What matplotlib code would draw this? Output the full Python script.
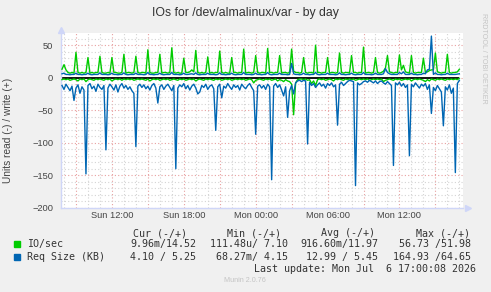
import matplotlib.pyplot as plt
from matplotlib.ticker import FixedLocator, FixedFormatter, MultipleLocator
from matplotlib.patches import Rectangle
import numpy as np

# samples every 10 minutes, Sun 07:50 -> Mon 17:00 (hours counted from Sun 00:00)
start_hour = 7 + 50 / 60
step_hour = 10 / 60

# IO/sec, write (+)
io_write = [
    13, 20, 12, 8, 7, 8, 7,
    39, 8, 7, 8, 7, 8,
    31, 7, 8, 7, 8, 8,
    33, 8, 7, 7, 8, 7,
    31, 8, 8, 7, 7, 8,
    36, 7, 8, 8, 7, 8,
    33, 8, 7, 8, 8, 7,
    43, 8, 7, 7, 8, 8,
    36, 7, 8, 8, 7, 8,
    46, 8, 7, 8, 7, 7,
    30, 8, 8, 9, 12, 9,
    42, 8, 7, 8, 7, 8,
    32, 7, 8, 7, 8, 8,
    41, 8, 7, 8, 7, 7,
    31, 8, 8, 7, 8, 8,
    44, 7, 8, 8, 7, 8,
    34, 8, 7, 8, 8, 7,
    45, 8, 8, 7, 8, 8,
    34, 7, 8, 8, 7, 8,
    44, 10, 8, 8, 7, 8,
    31, 8, 7, 8, 8, 7,
    50, 8, 8, 7, 8, 8,
    31, 7, 8, 8, 7, 8,
    38, 8, 7, 8, 8, 7,
    34, 8, 8, 7, 8, 8,
    47, 7, 8, 8, 7, 8,
    31, 8, 7, 8, 10, 15,
    34, 9, 8, 7, 8, 8,
    35, 12, 19, 9, 8, 7,
    34, 8, 7, 8, 8, 8,
    30, 8, 9, 11, 12, 12,
    38, 9, 8, 7, 8, 8,
    36, 8, 7, 8, 8, 9,
    13,
]

# IO/sec, read (-)
io_read = [
    -3, -2, -3, -2, -4, -3, -2, -3, -5, -2,
    -3, -2, -6, -3, -2, -3, -4, -2, -3, -2,
    -3, -4, -2, -3, -2, -5, -3, -2, -3, -2,
    -4, -2, -3, -2, -3, -2, -4, -3, -2, -3,
    -2, -3, -4, -2, -5, -3, -2, -3, -2, -4,
    -3, -2, -3, -2, -4, -3, -2, -3, -4, -2,
    -3, -2, -4, -3, -2, -3, -2, -5, -3, -2,
    -3, -4, -2, -3, -2, -3, -4, -2, -3, -2,
    -4, -3, -2, -3, -2, -4, -3, -2, -3, -2,
    -3, -2, -4, -3, -2, -3, -8, -4, -3, -2,
    -3, -4, -2, -3, -2, -4, -3, -2, -5, -3,
    -4, -6, -3, -5, -6, -10, -57, -8, -3, -2,
    -2, -3, -2, -4, -3, -9, -5, -12, -3, -2,
    -3, -2, -4, -3, -2, -3, -5, -2, -3, -2,
    -3, -4, -2, -3, -2, -3, -2, -4, -3, -2,
    -3, -2, -3, -2, -4, -3, -2, -3, -2, -3,
    -2, -6, -4, -3, -2, -3, -4, -2, -3, -2,
    -4, -3, -2, -3, -2, -5, -3, -2, -3, -2,
    -3, -4, -6, -3, -5, -2, -3, -4, -2, -3,
    -2, -3, -4, -2, -3, -2, -3, -2, -3, -1,
]

# Req Size (KB), write (+)
req_write = [
    6, 7, 5, 5, 4.5, 5, 5,
    7, 5, 5, 4.5, 5, 5,
    7, 5, 4.5, 5, 5, 5,
    7.5, 5, 5, 5, 4.5, 5,
    7, 5, 5, 4.5, 5, 5,
    7.5, 5, 4.5, 5, 5, 5,
    7, 5, 5, 5, 4.5, 5,
    8, 5, 5, 4.5, 5, 5,
    7, 5, 4.5, 5, 5, 5,
    8, 5, 5, 5, 4.5, 5,
    7, 5, 5, 5.5, 6, 5,
    7.5, 5, 4.5, 5, 5, 5,
    7, 5, 5, 5, 4.5, 5,
    7.5, 5, 5, 4.5, 5, 5,
    7, 5, 4.5, 5, 5, 5,
    8, 5, 5, 5, 4.5, 5,
    7, 5, 5, 4.5, 5, 5,
    8, 5, 4.5, 5, 5, 5,
    7, 5, 5, 5, 4.5, 5,
    22, 6, 5, 5, 4.5, 5,
    7, 5, 5, 4.5, 5, 5,
    8, 5, 4.5, 5, 5, 5,
    7, 5, 5, 5, 4.5, 5,
    7.5, 5, 5, 4.5, 5, 5,
    7, 5, 4.5, 5, 5, 5,
    8, 5, 5, 5, 4.5, 5,
    7, 5, 5, 5, 6, 14,
    8, 6, 5, 5, 5, 5,
    8, 6, 9, 5, 5, 5,
    7, 5, 5, 4.5, 5, 5,
    7, 6, 12, 13, 64, 5,
    7.5, 5, 5, 4.5, 5, 5,
    7, 5, 5, 5, 5, 5.5,
    6,
]

# Req Size (KB), read (-)
req_read = [
    -12, -18, -10, -15, -20, -13, -35, -16, -11, -24,
    -14, -19, -148, -12, -9, -17, -13, -21, -10, -15,
    -18, -12, -111, -16, -10, -14, -19, -11, -22, -13,
    -9, -16, -12, -18, -14, -20, -24, -106, -13, -10,
    -15, -11, -17, -13, -19, -12, -9, -16, -39, -14,
    -11, -18, -13, -10, -15, -20, -12, -140, -16, -11,
    -14, -9, -17, -12, -19, -13, -10, -16, -25, -22,
    -12, -15, -10, -18, -13, -11, -17, -81, -14, -10,
    -31, -13, -16, -9, -14, -18, -11, -15, -12, -19,
    -10, -14, -17, -12, -9, -15, -20, -87, -13, -11,
    -16, -12, -18, -10, -14, -157, -13, -9, -15, -11,
    -19, -28, -14, -61, -20, -12, -25, -8, -5, -4,
    -6, -4, -5, -102, -7, -12, -9, -15, -11, -8,
    -13, -10, -16, -9, -12, -8, -14, -11, -73, -10,
    -7, -12, -9, -6, -4, -5, -6, -166, -8, -11,
    -9, -6, -5, -7, -4, -6, -8, -5, -9, -6,
    -5, -8, -10, -6, -9, -12, -135, -8, -11, -7,
    -13, -9, -15, -11, -120, -10, -14, -8, -12, -16,
    -10, -13, -9, -18, -11, -55, -15, -20, -12, -17,
    -22, -74, -14, -19, -11, -24, -16, -146, -9, -4,
]

tick_hours = [12, 18, 24, 30, 36]
tick_labels = ['Sun 12:00', 'Sun 18:00', 'Mon 00:00', 'Mon 06:00', 'Mon 12:00']

legend_names = ['IO/sec', 'Req Size (KB)']
legend_cur = ['9.96m/14.52', '4.10 / 5.25']
legend_min = ['111.48u/ 7.10', '68.27m/ 4.15']
legend_avg = ['916.60m/11.97', '12.99 / 5.45']
legend_max = ['56.73 /51.98', '164.93 /64.65']

GREEN = '#00CC00'
BLUE = '#0066B3'
TEXT = '#444444'
SANS = ['Liberation Sans', 'DejaVu Sans']
MONO = ['DejaVu Sans Mono']

hours = start_hour + step_hour * np.arange(len(io_write))

W, H = 491, 292
fig = plt.figure(figsize=(W / 100, H / 100), dpi=100, facecolor='#F0F0F0')
ax = fig.add_axes([61 / W, 1 - 207.7 / H, 401.7 / W, 174.4 / H])
ax.set_facecolor('white')

ax.set_xlim(7.75, 41.28)
ax.set_ylim(-200, 68.3)

# grid: hours / 10 units in grey, 3 hours / 50 units in red
major_x = list(range(9, 41, 3))
ax.xaxis.set_major_locator(FixedLocator(major_x))
ax.xaxis.set_major_formatter(FixedFormatter(
    [tick_labels[tick_hours.index(h)] if h in tick_hours else '' for h in major_x]))
ax.xaxis.set_minor_locator(MultipleLocator(1))
ax.yaxis.set_major_locator(MultipleLocator(50))
ax.yaxis.set_minor_locator(MultipleLocator(10))
ax.grid(which='minor', color='#D4D4D4', linestyle=(0, (1, 2)), linewidth=0.8)
ax.grid(which='major', color='#E8A0A0', linestyle=(0, (1, 2)), linewidth=0.8)
ax.set_axisbelow(True)

ax.tick_params(which='both', length=0, colors=TEXT, labelsize=6.7)
ax.tick_params(axis='y', pad=5.5)
ax.tick_params(axis='x', pad=2.2)
for lab in ax.get_xticklabels() + ax.get_yticklabels():
    lab.set_family(SANS)

for side in ['top', 'right']:
    ax.spines[side].set_visible(False)
for side in ['left', 'bottom']:
    ax.spines[side].set_color('#CFD6F8')
    ax.spines[side].set_linewidth(1)
ax.plot([1.012], [0], marker='>', color='#CFD6F8', markersize=4,
        transform=ax.transAxes, clip_on=False)
ax.plot([0], [1.02], marker='^', color='#CFD6F8', markersize=4,
        transform=ax.transAxes, clip_on=False)

ax.hlines(0, hours[0], hours[-1], color='black', linewidth=1.3, zorder=2)
ax.plot(hours, io_write, color=GREEN, linewidth=1, zorder=3)
ax.plot(hours, io_read, color=GREEN, linewidth=1, zorder=3)
ax.plot(hours, req_write, color=BLUE, linewidth=1, zorder=4)
ax.plot(hours, req_read, color=BLUE, linewidth=1, zorder=4)

fig.text(245 / W, 1 - 13 / H, 'IOs for /dev/almalinux/var - by day',
         ha='center', va='center', fontsize=8.8, color='#333333', family=SANS)
fig.text(8.5 / W, 1 - 130 / H, 'Units read (-) / write (+)', rotation=90,
         ha='center', va='center', fontsize=7.3, color=TEXT, family=SANS)
fig.text(483 / W, 1 - 58 / H, 'RRDTOOL / TOBI OETIKER', rotation=270,
         ha='center', va='center', fontsize=5.1, color='#C4C4C4', family=SANS)

# legend block
def px(x, y):
    return x / W, 1 - y / H

col_right = [196, 288, 378, 471]
head_right = [187, 281, 375, 470]
for r, head in zip(head_right, ['Cur (-/+)', 'Min (-/+)', 'Avg (-/+)', 'Max (-/+)']):
    fig.text(*px(r, 233.3), head, ha='right', va='center', fontsize=7.2,
             color='#333333', family=MONO)
for row, (name, color) in enumerate(zip(legend_names, [GREEN, BLUE])):
    y = 244.3 + row * 12.4
    fig.patches.append(Rectangle(px(13.5, y + 3), 6 / W, 6 / H, color=color,
                                 transform=fig.transFigure))
    fig.text(*px(27, y), name, ha='left', va='center', fontsize=7.2,
             color='#333333', family=MONO)
    vals = [legend_cur[row], legend_min[row], legend_avg[row], legend_max[row]]
    for r, v in zip(col_right, vals):
        fig.text(*px(r, y), v, ha='right', va='center', fontsize=7.2,
                 color='#333333', family=MONO)
fig.text(*px(476, 269), 'Last update: Mon Jul  6 17:00:08 2026', ha='right',
         va='center', fontsize=7.2, color='#333333', family=MONO)
fig.text(*px(245, 280.7), 'Munin 2.0.76', ha='center', va='center',
         fontsize=5.2, color='#C4C4C4', family=SANS)

fig.savefig('out.png', dpi=100, facecolor=fig.get_facecolor())
